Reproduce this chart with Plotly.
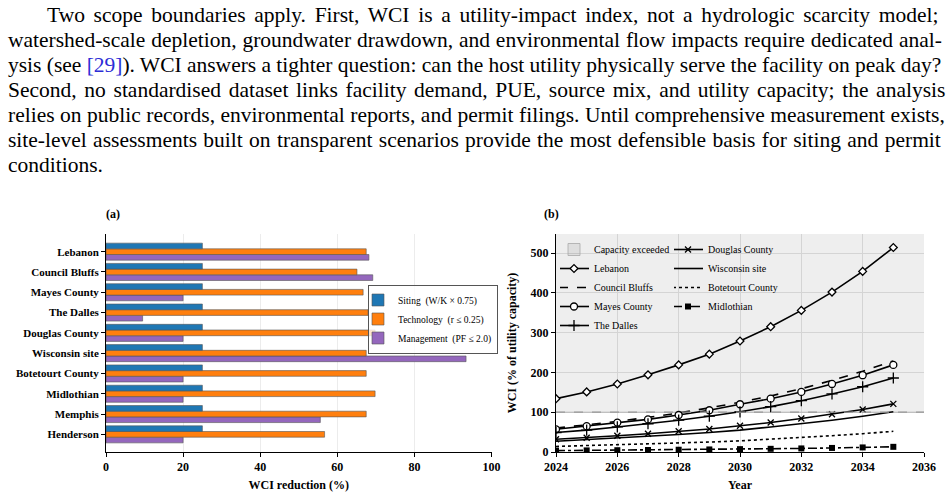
import plotly.graph_objects as go

W, H = 948, 499
SERIF = "Liberation Serif"

# ---------------- data ----------------
sites = ["Lebanon", "Council Bluffs", "Mayes County", "The Dalles", "Douglas County",
         "Wisconsin site", "Botetourt County", "Midlothian", "Memphis", "Henderson"]
siting = [25, 25, 25, 25, 25, 25, 25, 25, 25, 25]
technology = [67.5, 65.1, 66.7, 68.0, 69.8, 67.5, 67.5, 69.8, 67.5, 56.7]
management = [68.2, 69.2, 20.0, 9.5, 20.0, 93.4, 20.0, 20.0, 55.6, 20.0]
bar_names = ["Siting  (W/K × 0.75)", "Technology  (r ≤ 0.25)", "Management  (PF ≤ 2.0)"]

years = list(range(2024, 2036))
lebanon = [134, 151, 171, 194, 219, 246, 279, 315, 356, 402, 454, 514]
council_bluffs = [60, 68, 77, 87, 98, 111, 125, 141, 159, 180, 203, 229]
mayes = [57, 65, 74, 82, 93, 105, 120, 134, 151, 171, 193, 219]
dalles = [49, 55, 63, 71, 80, 90, 101, 114, 129, 146, 164, 186]
douglas = [32, 36, 41, 46, 52, 58, 66, 74, 84, 95, 107, 121]
wisconsin = [27, 31, 35, 39, 44, 49, 55, 63, 71, 80, 90, 101]
botetourt = [14, 16, 18, 20, 22, 25, 28, 32, 36, 41, 46, 52]
midlothian = [3.5, 4.0, 4.5, 5.0, 5.7, 6.4, 7.2, 8.0, 9.0, 10.2, 11.5, 13.0]

capacity_threshold = 100
year_range = [2024, 2036]
wci_range = [0, 548]

paragraph = [
    "Two scope boundaries apply. First, WCI is a utility-impact index, not a hydrologic scarcity model;",
    "watershed-scale depletion, groundwater drawdown, and environmental flow impacts require dedicated anal-",
    "ysis (see <span style='color:#2c2cd6'>[29]</span>). WCI answers a tighter question: can the host utility physically serve the facility on peak day?",
    "Second, no standardised dataset links facility demand, PUE, source mix, and utility capacity; the analysis",
    "relies on public records, environmental reports, and permit filings. Until comprehensive measurement exists,",
    "site-level assessments built on transparent scenarios provide the most defensible basis for siting and permit",
    "conditions.",
]
# extra word spacing (px) used to justify each paragraph line
word_spacing = [3.3, 0.5, -0.1, 2.3, 0.15, 0.95, 0]

# ---------------- helpers ----------------
def px_x(p):
    return p / W

def px_y(p):
    return 1 - p / H

fig = go.Figure()

# ---------------- panel (a): grouped horizontal bars ----------------
bar_colors = ["#1f77b4", "#ff7f0e", "#9467bd"]
for name, vals, col in reversed(list(zip(bar_names, [siting, technology, management], bar_colors))):
    fig.add_trace(go.Bar(
        y=sites, x=vals, orientation="h", name=name,
        marker=dict(color=col, line=dict(color="#555555", width=0.6)),
        xaxis="x", yaxis="y", legend="legend",
    ))

# ---------------- panel (b): WCI trajectories ----------------
# "capacity exceeded" band: from the threshold up past the top of the axis
band_center = (year_range[0] + year_range[1]) / 2
band_width = (year_range[1] - year_range[0]) + 2
band_height = wci_range[1] * 2
fig.add_trace(go.Bar(
    x=[band_center], y=[band_height], base=[capacity_threshold], width=[band_width],
    marker=dict(color="rgba(0,0,0,0.065)", line=dict(color="#a8a8a8", width=0.8)),
    name="Capacity exceeded", xaxis="x2", yaxis="y2", legend="legend2",
    hoverinfo="skip",
))

line_specs = [
    ("Lebanon", lebanon, "solid", dict(symbol="diamond", size=6, color="white", line=dict(color="black", width=1.3)), "legend2"),
    ("Council Bluffs", council_bluffs, "dash", None, "legend2"),
    ("Mayes County", mayes, "solid", dict(symbol="circle", size=7, color="white", line=dict(color="black", width=1.3)), "legend2"),
    ("The Dalles", dalles, "solid", dict(symbol="cross-thin", size=8, color="black", line=dict(color="black", width=1.3)), "legend2"),
    ("Douglas County", douglas, "solid", dict(symbol="x-thin", size=6, color="black", line=dict(color="black", width=1.3)), "legend3"),
    ("Wisconsin site", wisconsin, "solid", None, "legend3"),
    ("Botetourt County", botetourt, "dot", None, "legend3"),
    ("Midlothian", midlothian, "dashdot", dict(symbol="square", size=6, color="black"), "legend3"),
]
for name, vals, dash, marker, leg in line_specs:
    fig.add_trace(go.Scatter(
        x=years, y=vals, name=name,
        mode="lines+markers" if marker else "lines",
        line=dict(color="black", width=1.6, dash=dash),
        marker=marker, xaxis="x2", yaxis="y2", legend=leg,
    ))

fig.add_shape(type="line", xref="x2 domain", yref="y2", x0=0, x1=1,
              y0=capacity_threshold, y1=capacity_threshold,
              line=dict(color="#999999", width=1.3, dash="dash"))

# ---------------- axes ----------------
tickfont = dict(family=SERIF, size=12, color="black", weight="bold")
titlefont = dict(family=SERIF, size=12, color="black", weight="bold")
ax_common = dict(showline=True, linecolor="black", linewidth=1, ticks="outside",
                 ticklen=4, tickcolor="black", zeroline=False, tickfont=tickfont,
                 automargin=False)

fig.update_layout(
    width=W, height=H, margin=dict(l=0, r=0, t=0, b=0, autoexpand=False),
    paper_bgcolor="white", plot_bgcolor="white",
    barmode="group", bargap=0.16, bargroupgap=0,
    showlegend=True,
    xaxis=dict(domain=[px_x(106), px_x(491.5)], range=[0, 100], dtick=20,
               showgrid=True, gridcolor="#ececec", gridwidth=1,
               title=dict(text="WCI reduction (%)", font=titlefont, standoff=7),
               anchor="y", **ax_common),
    yaxis=dict(domain=[px_y(452), px_y(234)], type="category",
               categoryorder="array", categoryarray=list(reversed(sites)),
               range=[-0.87, 9.87], showgrid=False, anchor="x",
               **{**ax_common, "tickfont": dict(family=SERIF, size=11, color="black", weight="bold")}),
    xaxis2=dict(domain=[px_x(556), px_x(924)], range=year_range, dtick=2,
                showgrid=True, gridcolor="#e4e4e4", gridwidth=1,
                title=dict(text="Year", font=titlefont, standoff=7),
                anchor="y2", **ax_common),
    yaxis2=dict(domain=[px_y(452), px_y(234)], range=wci_range, dtick=100,
                showgrid=True, gridcolor="#e4e4e4", gridwidth=1,
                title=dict(text="WCI (% of utility capacity)", font=titlefont, standoff=11),
                anchor="x2", **ax_common),
    legend=dict(x=px_x(498), y=px_y(319), xanchor="right", yanchor="middle",
                traceorder="reversed", bgcolor="rgba(255,255,255,0.8)", bordercolor="#555555",
                borderwidth=1, font=dict(family=SERIF, size=9.5, color="black"),
                itemwidth=30, tracegroupgap=0, indentation=-11),
    legend2=dict(x=px_x(560), y=px_y(235), xanchor="left", yanchor="top",
                 bgcolor="rgba(0,0,0,0)", borderwidth=0, indentation=-6,
                 font=dict(family=SERIF, size=10, color="black"), itemwidth=30),
    legend3=dict(x=px_x(674), y=px_y(235), xanchor="left", yanchor="top",
                 bgcolor="rgba(0,0,0,0)", borderwidth=0, indentation=-6,
                 font=dict(family=SERIF, size=10, color="black"), itemwidth=30),
)

# ---------------- text annotations ----------------
line_y = [15, 40, 65, 90, 115, 140, 165]
for i, (txt, yy, ws) in enumerate(zip(paragraph, line_y, word_spacing)):
    fig.add_annotation(text=f"<span style='word-spacing:{ws}px'>{txt}</span>" if ws else txt,
                       xref="paper", yref="paper",
                       x=px_x(45 if i == 0 else 6), y=px_y(yy),
                       xanchor="left", yanchor="middle", showarrow=False,
                       font=dict(family=SERIF, size=21.5, color="black"))

for lbl, xx in [("(a)", 113), ("(b)", 551)]:
    fig.add_annotation(text=lbl, xref="paper", yref="paper", x=px_x(xx), y=px_y(214),
                       xanchor="center", yanchor="middle", showarrow=False,
                       font=dict(family=SERIF, size=12, color="black", weight="bold"))

fig.write_html("out.html")
